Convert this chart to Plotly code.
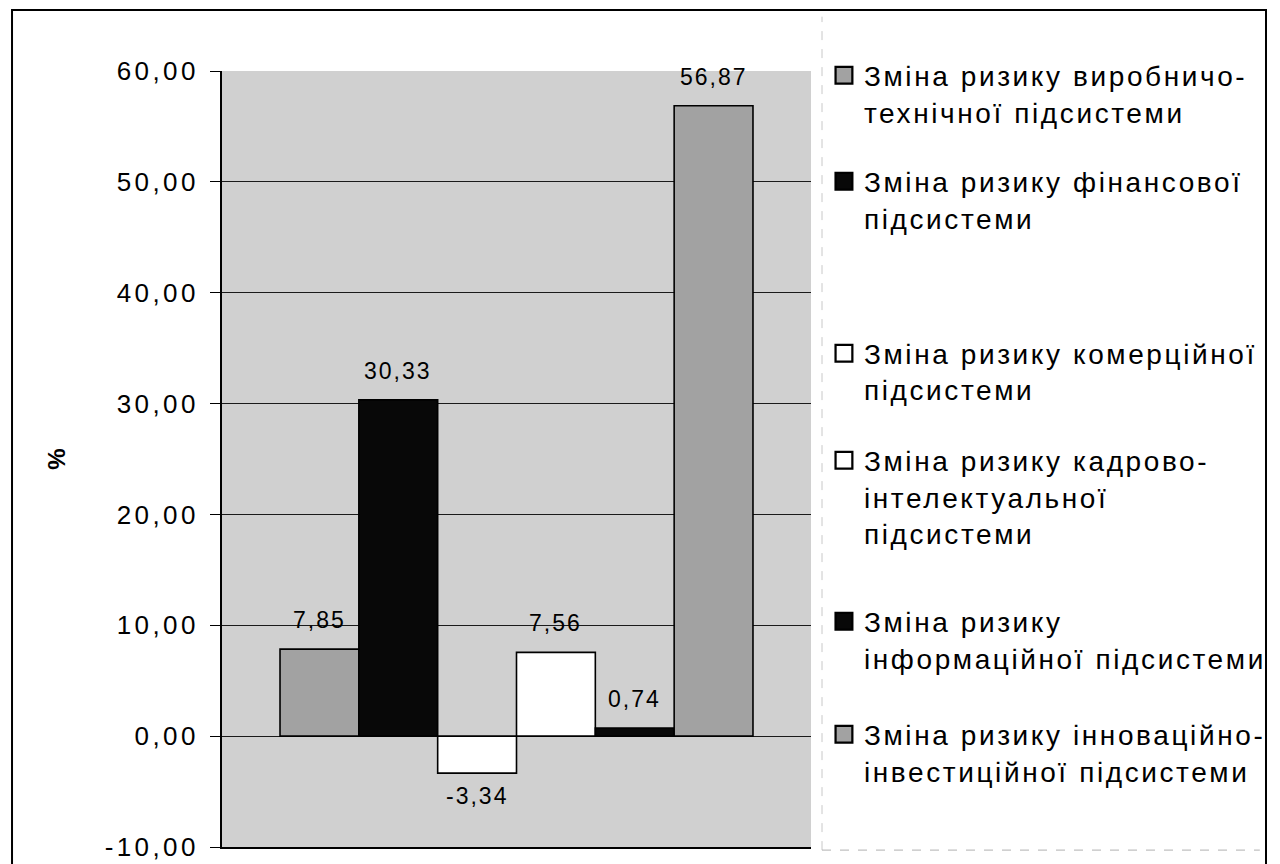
import plotly.graph_objects as go

# Change of risk by subsystem, %
series_names = [
    "Зміна ризику виробничо-<br>технічної підсистеми",
    "Зміна ризику фінансової<br>підсистеми",
    "Зміна ризику комерційної<br>підсистеми",
    "Зміна ризику кадрово-<br>інтелектуальної<br>підсистеми",
    "Зміна ризику<br>інформаційної підсистеми",
    "Зміна ризику інноваційно-<br>інвестиційної підсистеми",
]
values = [7.85, 30.33, -3.34, 7.56, 0.74, 56.87]
category = ["Підсистеми"]
y_ticks = [-10, 0, 10, 20, 30, 40, 50, 60]

fill_colors = ["#a2a2a2", "#080808", "#ffffff", "#ffffff", "#080808", "#a2a2a2"]
legend_ids = ["legend", "legend2", "legend3", "legend4", "legend5", "legend6"]
legend_tops = [1.0264, 0.8898, 0.6682, 0.5303, 0.3228, 0.1772]

FONT = "Liberation Sans, Arial, sans-serif"
BARGAP = 0.197


def fmt(v):
    return f"{v:.2f}".replace(".", ",")


fig = go.Figure()
for name, val, col, lg in zip(series_names, values, fill_colors, legend_ids):
    fig.add_trace(go.Bar(
        name=name,
        x=category,
        y=[val],
        marker=dict(color=col, line=dict(color="#000", width=1.6)),
        legend=lg,
        hovertemplate="%{y:.2f}<extra></extra>",
    ))

# Value labels above (or below) each bar, placed at the grouped-bar centres
n = len(values)
bar_w = (1 - BARGAP) / n
for i, val in enumerate(values):
    xc = -(1 - BARGAP) / 2 + (i + 0.5) * bar_w
    pos = val >= 0
    fig.add_annotation(
        x=xc, y=val, xref="x", yref="y",
        text=fmt(val), showarrow=False,
        yanchor="bottom" if pos else "top",
        yshift=14 if pos else -8,
        font=dict(family=FONT, size=23, color="#000"),
    )

legend_cfg = {}
for lg, top in zip(legend_ids, legend_tops):
    legend_cfg[lg] = dict(
        x=1.022, y=top, xanchor="left", yanchor="top",
        font=dict(family=FONT, size=28, color="#000"),
        bgcolor="rgba(0,0,0,0)", borderwidth=0,
        valign="top", itemwidth=30,
        itemclick=False, itemdoubleclick=False,
    )

fig.update_layout(
    width=1280, height=864,
    margin=dict(l=222, r=469, t=71, b=17),
    paper_bgcolor="#ffffff",
    plot_bgcolor="#d0d0d0",
    barmode="group",
    bargap=BARGAP,
    bargroupgap=0,
    showlegend=True,
    font=dict(family=FONT, size=22, color="#000"),
    **legend_cfg,
)

fig.update_yaxes(
    range=[-10, 60],
    tickvals=y_ticks,
    ticktext=[fmt(t) for t in y_ticks],
    tickfont=dict(family=FONT, size=26, color="#000"),
    ticks="outside", ticklen=10, tickcolor="#000", tickwidth=1,
    ticklabelstandoff=6,
    showgrid=True, gridcolor="#1a1a1a", gridwidth=1,
    zeroline=True, zerolinecolor="#1a1a1a", zerolinewidth=1,
    showline=True, linecolor="#000", linewidth=2,
    title=dict(text="<b>%</b>", font=dict(family=FONT, size=24, color="#000"), standoff=53),
    automargin=False,
)
fig.update_xaxes(
    showticklabels=False, showgrid=False, zeroline=False,
    showline=True, linecolor="#000", linewidth=2,
    automargin=False,
)

# Outer frame around the whole figure
fig.add_shape(type="rect", xref="paper", yref="paper",
              x0=-0.3565, x1=1.7725, y0=-0.045, y1=1.0786,
              line=dict(color="#000", width=2), fillcolor="rgba(0,0,0,0)", layer="above")
# Faint dashed outline of the legend area
fig.add_shape(type="line", xref="paper", yref="paper",
              x0=1.0187, x1=1.0187, y0=-0.004, y1=1.07,
              line=dict(color="#c8c8c8", width=1, dash="dash"))
fig.add_shape(type="line", xref="paper", yref="paper",
              x0=1.0187, x1=1.762, y0=-0.004, y1=-0.004,
              line=dict(color="#b0b0b0", width=1, dash="dash"))

post = """
(function () {
  var gd = document.getElementById('{plot_id}');
  function setLS(t, v) {
    if (t.style.letterSpacing !== v) { t.style.letterSpacing = v; }
  }
  function tune() {
    gd.querySelectorAll('text').forEach(function (t) {
      if (t.closest('g.ytick')) { setLS(t, '3.4px'); }
      else if (t.closest('g.annotation')) { setLS(t, '2px'); }
      else if (t.closest('g[class*="legend"]') || t.classList.contains('legendtext')) { setLS(t, '2.6px'); }
    });
    gd.querySelectorAll('g.scrollbox').forEach(function (s) {
      if (s.hasAttribute('clip-path')) { s.removeAttribute('clip-path'); }
    });
    gd.querySelectorAll('g.legendpoints path').forEach(function (p) {
      if (!p.getAttribute('data-sc')) {
        var tr = p.getAttribute('transform') || '';
        p.setAttribute('transform', tr + ' scale(1.4)');
        p.setAttribute('data-sc', '1');
      }
    });
  }
  tune();
  gd.on('plotly_afterplot', tune);
  new MutationObserver(tune).observe(gd, {childList: true, subtree: true});
  setTimeout(tune, 50);
  setTimeout(tune, 300);
})();
"""

fig.write_html("out.html", post_script=post, config={"displayModeBar": False})
